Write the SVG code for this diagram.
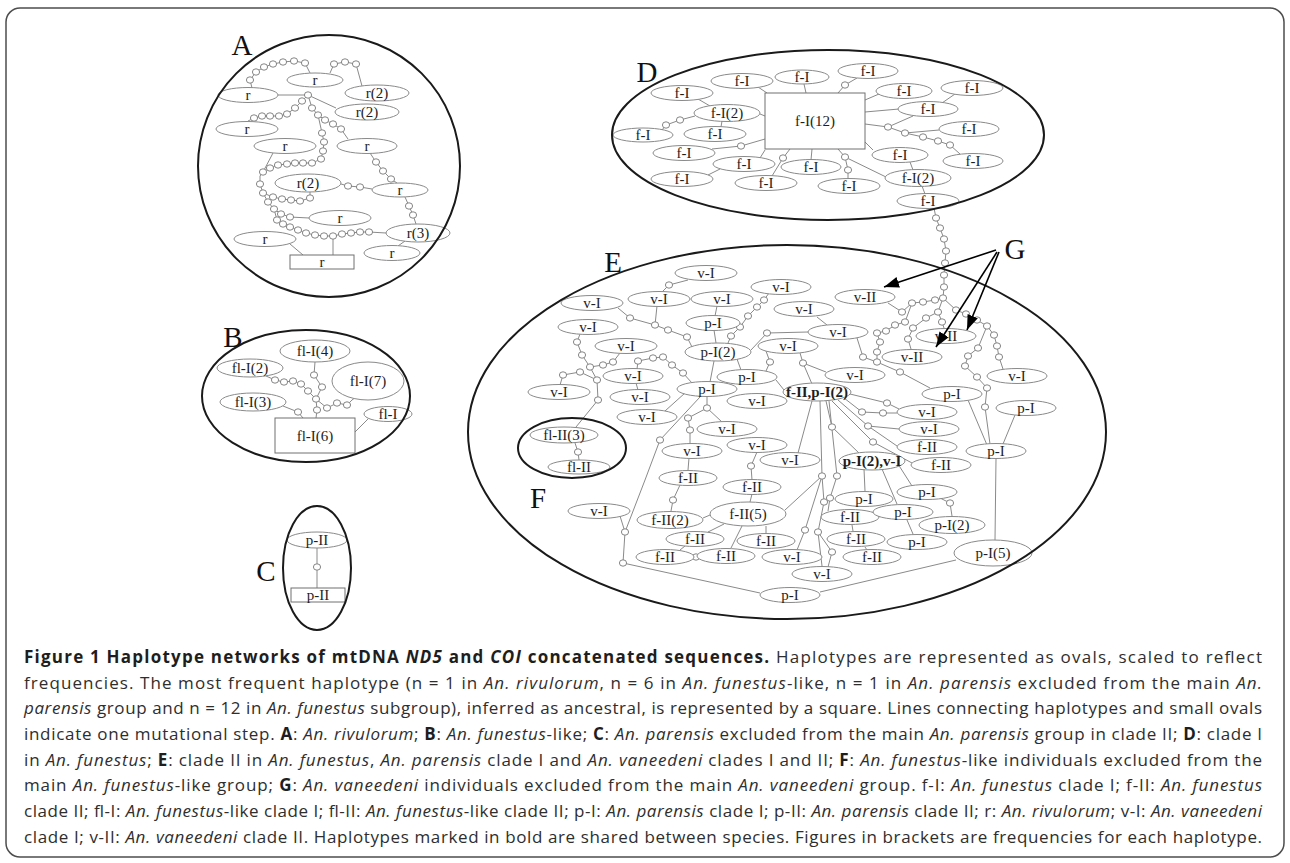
<svg xmlns="http://www.w3.org/2000/svg" xmlns:xlink="http://www.w3.org/1999/xlink" width="1290" height="863" viewBox="0 0 1290 863">
<style>
.grp{fill:none;stroke:#1a1a1a;stroke-width:2}
.nd{fill:#fff;stroke:#8a8a8a;stroke-width:1}
.sq{fill:#fff;stroke:#707070;stroke-width:1}
.t{font-family:"Liberation Serif","Times New Roman",serif;font-size:15px;fill:#1e1e1e;text-anchor:middle}
.tb{font-weight:bold}
.big{font-family:"Liberation Serif","Times New Roman",serif;font-size:29px;fill:#111;text-anchor:middle}
.ln{fill:none;stroke:#8a8a8a;stroke-width:1}
.st{fill:#fff;stroke:#777;stroke-width:0.9}
.arr{fill:none;stroke:#000;stroke-width:1.6;marker-end:url(#ah)}
.cap{font-family:"Open Sans","Noto Sans","DejaVu Sans",sans-serif;font-size:17px;fill:#2e2e2e}
.b{font-weight:bold;fill:#1e1e1e}
.i{font-style:italic}
</style>
<defs>
<ellipse id="s" cx="0" cy="0" rx="3.6" ry="3.2" class="st"/>
<marker id="ah" markerUnits="userSpaceOnUse" markerWidth="15" markerHeight="11" viewBox="0 0 15 11" refX="15" refY="5.5" orient="auto"><path d="M0,0 L15,5.5 L0,11 z" fill="#000"/></marker>
</defs>
<rect width="1290" height="863" fill="#fff"/>
<rect x="6" y="8" width="1278" height="849" rx="14" fill="none" stroke="#4d4d4d" stroke-width="1.5"/>

<g id="connectors">
<g class="ln">
<path d="M252,88 L250,80 L256,72 L264,67 L273,64 L283,62 L294,61 L305,63 L310,73"/>
<path d="M330,73 L334,64 L345,62 L356,64 L362,86"/>
<path d="M278,95 L308,95 L336,108"/>
<path d="M308,95 L302,101 L295,108 L287,114 L279,116 L270,116 L262,116 L254,118 L248,121"/>
<path d="M308,95 L312,108 L318,115 L325,120 L333,124 L341,129 L348,139"/>
<path d="M318,115 L322,133 L324,142 L323,151 L321,159 L312,163 L303,163 L295,163 L287,164 L278,165 L270,168 L263,172 L260,176"/>
<path d="M260,176 L260,184 L263,193 L268,202 L274,209 L281,214 L290,217 L309,218"/>
<path d="M263,193 L273,197 L282,199 L291,200 L300,201 L310,198 L310,192"/>
<path d="M274,209 L277,220 L283,224 L290,227 L298,230 L306,233 L315,235 L324,236 L333,236 L342,234 L351,233 L360,232 L369,232 L386,233"/>
<path d="M273,153 L263,172"/>
<path d="M290,244 L303,255"/>
<path d="M333,236 L333,255"/>
<path d="M370,153 L376,162 L383,171 L391,179 L397,183"/>
<path d="M341,184 L348,186 L360,187 L372,189"/>
<path d="M405,197 L409,206 L413,215 L416,224"/>
<path d="M405,241 L398,246"/>
<path d="M266,376 L275,380 L284,382 L293,381 L301,384 L308,391 L316,399"/>
<path d="M315,362 L314,375 L322,387 L316,399"/>
<path d="M316,399 L317,410 L316,418"/>
<path d="M283,406 L298,412 L303,418"/>
<path d="M316,399 L327,408 L337,403 L347,405 L352,400 L356,397"/>
<path d="M355,432 L368,419"/>
<path d="M317,548 L317,588"/>
<path d="M758,87 L767,93"/>
<path d="M804,84 L806,93"/>
<path d="M857,78 L845,85 L838,93"/>
<path d="M698,99 L710,106"/>
<path d="M760,114 L765,116"/>
<path d="M662,130 L666,125 L680,120 L695,116"/>
<path d="M721,127 L722,121"/>
<path d="M712,149 L741,146 L765,139"/>
<path d="M760,158 L765,150"/>
<path d="M708,175 L720,169"/>
<path d="M772,176 L783,158 L790,149"/>
<path d="M811,160 L812,149"/>
<path d="M848,179 L848,170 L845,157 L838,149"/>
<path d="M845,157 L886,177"/>
<path d="M865,100 L879,94"/>
<path d="M865,112 L899,109"/>
<path d="M865,124 L888,127 L913,116"/>
<path d="M888,127 L905,133 L923,137 L938,141 L950,145 L960,154"/>
<path d="M905,133 L939,130"/>
<path d="M865,142 L873,150"/>
<path d="M955,94 L942,103"/>
<path d="M910,162 L913,170"/>
<path d="M922,186 L925,194"/>
<path d="M934,208 L936,218 L940,228 L944,239 L946,251 L945,263 L944,275 L944,287 L943,298"/>
<path d="M943,298 L935,300 L923,302 L912,303 L902,312 L888,303"/>
<path d="M912,303 L905,322 L895,325 L886,331 L877,333 L880,342 L877,352 L877,362"/>
<path d="M857,338 L863,357 L877,362 L900,372 L930,388"/>
<path d="M943,298 L938,312 L926,318 L913,328 L908,339 L911,349"/>
<path d="M938,312 L942,322 L944,328"/>
<path d="M943,298 L956,310 L966,314 L977,320 L987,326 L994,335 L997,346 L999,357 L1003,369"/>
<path d="M987,326 L978,348 L968,356 L965,366 L977,377 L987,388 L985,407 L990,444"/>
<path d="M968,400 L987,445"/>
<path d="M1015,415 L1003,444"/>
<path d="M996,459 L995,540"/>
<path d="M956,560 L820,592"/>
<path d="M850,394 L887,403 L899,409"/>
<path d="M844,398 L862,412 L883,413 L897,413"/>
<path d="M838,400 L868,426 L899,429"/>
<path d="M868,426 L897,446"/>
<path d="M832,401 L873,442 L912,463"/>
<path d="M826,401 L832,427 L860,454"/>
<path d="M812,401 L798,453"/>
<path d="M820,401 L822,476 L824,502 L818,532 L822,566"/>
<path d="M822,476 L805,530 L797,550"/>
<path d="M785,510 L822,476"/>
<path d="M829,401 L837,476 L830,498 L828,511"/>
<path d="M818,532 L832,552 L828,567"/>
<path d="M864,469 L865,491"/>
<path d="M882,469 L897,504"/>
<path d="M898,464 L912,486"/>
<path d="M940,498 L950,503 L952,516"/>
<path d="M907,520 L913,534"/>
<path d="M852,525 L853,531"/>
<path d="M865,547 L867,550"/>
<path d="M688,280 L669,285 L662,292"/>
<path d="M618,308 L630,318 L655,325 L668,330 L687,337 L692,347"/>
<path d="M657,306 L655,325"/>
<path d="M717,306 L715,316"/>
<path d="M714,330 L716,343"/>
<path d="M714,361 L710,382"/>
<path d="M737,359 L741,370"/>
<path d="M728,343 L731,336 L740,327 L748,316 L757,307 L764,300 L769,293"/>
<path d="M751,350 L767,333 L808,332"/>
<path d="M817,317 L827,325"/>
<path d="M800,353 L803,363 L812,384"/>
<path d="M803,363 L826,372"/>
<path d="M766,351 L770,362 L766,371"/>
<path d="M776,380 L784,390"/>
<path d="M580,334 L577,342 L582,355 L590,367 L603,365 L613,362 L620,353"/>
<path d="M590,367 L597,380 L598,400 L576,427"/>
<path d="M597,380 L580,372 L563,375 L560,385"/>
<path d="M637,369 L638,361 L653,358 L663,357 L672,365 L683,373 L692,383"/>
<path d="M638,390 L636,383"/>
<path d="M665,411 L685,393"/>
<path d="M707,397 L707,408 L722,422"/>
<path d="M707,408 L688,418 L690,430 L690,444"/>
<path d="M700,397 L660,440 L645,480 L625,532 L623,563"/>
<path d="M620,516 L625,532"/>
<path d="M623,563 L760,593"/>
<path d="M575,443 L578,452 L579,460"/>
<path d="M689,458 L688,470"/>
<path d="M680,485 L673,500 L671,511"/>
<path d="M703,518 L710,515"/>
<path d="M750,502 L752,494"/>
<path d="M724,524 L708,532"/>
<path d="M742,526 L731,548"/>
<path d="M766,526 L766,533"/>
<path d="M680,550 L685,546"/>
<path d="M757,452 L751,466 L752,480"/>
</g>
<g id="steps">
<use href="#s" x="250" y="80"/><use href="#s" x="256" y="72"/><use href="#s" x="264" y="67"/><use href="#s" x="273" y="64"/><use href="#s" x="283" y="62"/><use href="#s" x="294" y="61"/><use href="#s" x="305" y="63"/>
<use href="#s" x="334" y="64"/><use href="#s" x="345" y="62"/><use href="#s" x="356" y="64"/>
<use href="#s" x="308" y="95"/>
<use href="#s" x="302" y="101"/><use href="#s" x="295" y="108"/><use href="#s" x="287" y="114"/><use href="#s" x="279" y="116"/><use href="#s" x="270" y="116"/><use href="#s" x="262" y="116"/><use href="#s" x="254" y="118"/>
<use href="#s" x="312" y="108"/><use href="#s" x="318" y="115"/><use href="#s" x="325" y="120"/><use href="#s" x="333" y="124"/><use href="#s" x="341" y="129"/>
<use href="#s" x="322" y="133"/><use href="#s" x="324" y="142"/><use href="#s" x="323" y="151"/><use href="#s" x="321" y="159"/><use href="#s" x="312" y="163"/><use href="#s" x="303" y="163"/><use href="#s" x="295" y="163"/><use href="#s" x="287" y="164"/><use href="#s" x="278" y="165"/><use href="#s" x="270" y="168"/><use href="#s" x="263" y="172"/>
<use href="#s" x="260" y="184"/><use href="#s" x="263" y="193"/><use href="#s" x="268" y="202"/><use href="#s" x="274" y="209"/><use href="#s" x="281" y="214"/><use href="#s" x="290" y="217"/>
<use href="#s" x="273" y="197"/><use href="#s" x="282" y="199"/><use href="#s" x="291" y="200"/><use href="#s" x="300" y="201"/><use href="#s" x="310" y="198"/>
<use href="#s" x="277" y="220"/><use href="#s" x="283" y="224"/><use href="#s" x="290" y="227"/><use href="#s" x="298" y="230"/><use href="#s" x="306" y="233"/><use href="#s" x="315" y="235"/><use href="#s" x="324" y="236"/><use href="#s" x="333" y="236"/><use href="#s" x="342" y="234"/><use href="#s" x="351" y="233"/><use href="#s" x="360" y="232"/><use href="#s" x="369" y="232"/>
<use href="#s" x="376" y="162"/><use href="#s" x="383" y="171"/><use href="#s" x="391" y="179"/>
<use href="#s" x="348" y="186"/><use href="#s" x="360" y="187"/>
<use href="#s" x="409" y="206"/><use href="#s" x="413" y="215"/>
<use href="#s" x="275" y="380"/><use href="#s" x="284" y="382"/><use href="#s" x="293" y="381"/><use href="#s" x="301" y="384"/><use href="#s" x="308" y="391"/>
<use href="#s" x="314" y="375"/><use href="#s" x="322" y="387"/><use href="#s" x="316" y="399"/><use href="#s" x="317" y="410"/><use href="#s" x="298" y="412"/>
<use href="#s" x="327" y="408"/><use href="#s" x="337" y="403"/><use href="#s" x="347" y="405"/>
<use href="#s" x="317" y="567"/>
<use href="#s" x="845" y="85"/><use href="#s" x="666" y="125"/><use href="#s" x="680" y="120"/><use href="#s" x="741" y="146"/><use href="#s" x="783" y="158"/><use href="#s" x="848" y="170"/><use href="#s" x="845" y="157"/><use href="#s" x="888" y="127"/><use href="#s" x="905" y="133"/><use href="#s" x="923" y="137"/><use href="#s" x="938" y="141"/><use href="#s" x="950" y="145"/>
<use href="#s" x="936" y="218"/><use href="#s" x="940" y="228"/><use href="#s" x="944" y="239"/><use href="#s" x="946" y="251"/><use href="#s" x="945" y="263"/><use href="#s" x="944" y="275"/><use href="#s" x="944" y="287"/><use href="#s" x="943" y="298"/>
<use href="#s" x="935" y="300"/><use href="#s" x="923" y="302"/><use href="#s" x="912" y="303"/><use href="#s" x="902" y="312"/>
<use href="#s" x="905" y="322"/><use href="#s" x="895" y="325"/><use href="#s" x="886" y="331"/><use href="#s" x="877" y="333"/><use href="#s" x="880" y="342"/><use href="#s" x="877" y="352"/><use href="#s" x="877" y="362"/>
<use href="#s" x="863" y="357"/><use href="#s" x="900" y="372"/>
<use href="#s" x="938" y="312"/><use href="#s" x="926" y="318"/><use href="#s" x="913" y="328"/><use href="#s" x="908" y="339"/><use href="#s" x="942" y="322"/>
<use href="#s" x="956" y="310"/><use href="#s" x="966" y="314"/><use href="#s" x="977" y="320"/><use href="#s" x="987" y="326"/><use href="#s" x="994" y="335"/><use href="#s" x="997" y="346"/><use href="#s" x="999" y="357"/>
<use href="#s" x="978" y="348"/><use href="#s" x="968" y="356"/><use href="#s" x="965" y="366"/><use href="#s" x="977" y="377"/><use href="#s" x="987" y="388"/><use href="#s" x="985" y="407"/>
<use href="#s" x="887" y="403"/><use href="#s" x="862" y="412"/><use href="#s" x="883" y="413"/><use href="#s" x="868" y="426"/><use href="#s" x="873" y="442"/><use href="#s" x="832" y="427"/>
<use href="#s" x="822" y="476"/><use href="#s" x="824" y="502"/><use href="#s" x="818" y="532"/><use href="#s" x="805" y="530"/><use href="#s" x="837" y="476"/><use href="#s" x="830" y="498"/><use href="#s" x="832" y="552"/><use href="#s" x="950" y="503"/>
<use href="#s" x="669" y="285"/><use href="#s" x="630" y="318"/><use href="#s" x="655" y="325"/><use href="#s" x="668" y="330"/><use href="#s" x="687" y="337"/>
<use href="#s" x="731" y="336"/><use href="#s" x="740" y="327"/><use href="#s" x="748" y="316"/><use href="#s" x="757" y="307"/><use href="#s" x="764" y="300"/>
<use href="#s" x="767" y="333"/><use href="#s" x="803" y="363"/><use href="#s" x="770" y="362"/>
<use href="#s" x="577" y="342"/><use href="#s" x="582" y="355"/><use href="#s" x="590" y="367"/><use href="#s" x="603" y="365"/><use href="#s" x="613" y="362"/>
<use href="#s" x="597" y="380"/><use href="#s" x="598" y="400"/><use href="#s" x="580" y="372"/><use href="#s" x="563" y="375"/>
<use href="#s" x="638" y="361"/><use href="#s" x="653" y="358"/><use href="#s" x="663" y="357"/><use href="#s" x="672" y="365"/><use href="#s" x="683" y="373"/>
<use href="#s" x="707" y="408"/><use href="#s" x="688" y="418"/><use href="#s" x="690" y="430"/>
<use href="#s" x="660" y="440"/><use href="#s" x="625" y="532"/><use href="#s" x="623" y="563"/>
<use href="#s" x="578" y="452"/><use href="#s" x="673" y="500"/><use href="#s" x="696" y="557"/><use href="#s" x="751" y="466"/>
</g>
</g>

<g id="a1"><ellipse class="nd" cx="315" cy="80" rx="28" ry="7"/><text class="t" x="315" y="85">r</text></g>
<g id="a2"><ellipse class="nd" cx="377" cy="93" rx="32" ry="8"/><text class="t" x="377" y="98">r(2)</text></g>
<g id="a3"><ellipse class="nd" cx="248" cy="95" rx="30" ry="7.5"/><text class="t" x="248" y="100">r</text></g>
<g id="a4"><ellipse class="nd" cx="367" cy="112" rx="32" ry="8"/><text class="t" x="367" y="117">r(2)</text></g>
<g id="a5"><ellipse class="nd" cx="247" cy="129" rx="31" ry="7.5"/><text class="t" x="247" y="134">r</text></g>
<g id="a6"><ellipse class="nd" cx="285" cy="146" rx="31" ry="7.5"/><text class="t" x="285" y="151">r</text></g>
<g id="a7"><ellipse class="nd" cx="367" cy="146" rx="30" ry="7.5"/><text class="t" x="367" y="151">r</text></g>
<g id="a8"><ellipse class="nd" cx="308" cy="183" rx="33" ry="9"/><text class="t" x="308" y="188">r(2)</text></g>
<g id="a9"><ellipse class="nd" cx="400" cy="190" rx="28" ry="7"/><text class="t" x="400" y="195">r</text></g>
<g id="a10"><ellipse class="nd" cx="340" cy="218" rx="31" ry="7.5"/><text class="t" x="340" y="223">r</text></g>
<g id="a11"><ellipse class="nd" cx="418" cy="233" rx="32" ry="9"/><text class="t" x="418" y="238">r(3)</text></g>
<g id="a12"><ellipse class="nd" cx="265" cy="239" rx="31" ry="7.5"/><text class="t" x="265" y="244">r</text></g>
<g id="a13"><ellipse class="nd" cx="392" cy="253" rx="28" ry="7.5"/><text class="t" x="392" y="258">r</text></g>
<g id="a14"><rect class="sq" x="290" y="255" width="64" height="14"/><text class="t" x="322" y="267">r</text></g>

<g id="b1"><ellipse class="nd" cx="315" cy="351" rx="35" ry="11"/><text class="t" x="315" y="356">fl-I(4)</text></g>
<g id="b2"><ellipse class="nd" cx="250" cy="368" rx="33" ry="9"/><text class="t" x="250" y="373">fl-I(2)</text></g>
<g id="b3"><ellipse class="nd" cx="253" cy="402" rx="33" ry="9"/><text class="t" x="253" y="407">fl-I(3)</text></g>
<g id="b4"><ellipse class="nd" cx="368" cy="381" rx="36" ry="19"/><text class="t" x="368" y="386">fl-I(7)</text></g>
<g id="b5"><ellipse class="nd" cx="388" cy="414" rx="24" ry="7.5"/><text class="t" x="388" y="419">fl-I</text></g>
<g id="b6"><rect class="sq" x="275" y="418" width="80" height="35"/><text class="t" x="315" y="441">fl-I(6)</text></g>

<g id="c1"><ellipse class="nd" cx="317" cy="540" rx="30" ry="8"/><text class="t" x="317" y="545">p-II</text></g>
<g id="c2"><rect class="sq" x="291" y="588" width="54" height="14"/><text class="t" x="318" y="600">p-II</text></g>

<g id="d0"><rect class="sq" x="765" y="93" width="100" height="56"/><text class="t" x="815" y="126">f-I(12)</text></g>
<g id="d1"><ellipse class="nd" cx="742" cy="81" rx="31" ry="7.5"/><text class="t" x="742" y="86">f-I</text></g>
<g id="d2"><ellipse class="nd" cx="802" cy="77" rx="27" ry="7"/><text class="t" x="802" y="82">f-I</text></g>
<g id="d3"><ellipse class="nd" cx="868" cy="71" rx="30" ry="7.5"/><text class="t" x="868" y="76">f-I</text></g>
<g id="d4"><ellipse class="nd" cx="682" cy="93" rx="31" ry="7.5"/><text class="t" x="682" y="98">f-I</text></g>
<g id="d5"><ellipse class="nd" cx="727" cy="113" rx="33" ry="8.5"/><text class="t" x="727" y="118">f-I(2)</text></g>
<g id="d6"><ellipse class="nd" cx="643" cy="135" rx="30" ry="7"/><text class="t" x="643" y="140">f-I</text></g>
<g id="d7"><ellipse class="nd" cx="715" cy="134" rx="31" ry="7.5"/><text class="t" x="715" y="139">f-I</text></g>
<g id="d8"><ellipse class="nd" cx="684" cy="153" rx="31" ry="7.5"/><text class="t" x="684" y="158">f-I</text></g>
<g id="d9"><ellipse class="nd" cx="744" cy="164" rx="31" ry="7.5"/><text class="t" x="744" y="169">f-I</text></g>
<g id="d10"><ellipse class="nd" cx="682" cy="179" rx="31" ry="7.5"/><text class="t" x="682" y="184">f-I</text></g>
<g id="d11"><ellipse class="nd" cx="811" cy="167" rx="30" ry="7.5"/><text class="t" x="811" y="172">f-I</text></g>
<g id="d12"><ellipse class="nd" cx="766" cy="183" rx="31" ry="7.5"/><text class="t" x="766" y="188">f-I</text></g>
<g id="d13"><ellipse class="nd" cx="849" cy="186" rx="31" ry="7.5"/><text class="t" x="849" y="191">f-I</text></g>
<g id="d14"><ellipse class="nd" cx="904" cy="91" rx="28" ry="7.5"/><text class="t" x="904" y="96">f-I</text></g>
<g id="d15"><ellipse class="nd" cx="972" cy="88" rx="31" ry="7.5"/><text class="t" x="972" y="93">f-I</text></g>
<g id="d16"><ellipse class="nd" cx="928" cy="109" rx="30" ry="7.5"/><text class="t" x="928" y="114">f-I</text></g>
<g id="d17"><ellipse class="nd" cx="969" cy="129" rx="30" ry="7.5"/><text class="t" x="969" y="134">f-I</text></g>
<g id="d18"><ellipse class="nd" cx="973" cy="161" rx="30" ry="7.5"/><text class="t" x="973" y="166">f-I</text></g>
<g id="d19"><ellipse class="nd" cx="900" cy="155" rx="28" ry="7.5"/><text class="t" x="900" y="160">f-I</text></g>
<g id="d20"><ellipse class="nd" cx="918" cy="178" rx="33" ry="8.5"/><text class="t" x="918" y="183">f-I(2)</text></g>
<g id="d21"><ellipse class="nd" cx="928" cy="201" rx="31" ry="7.5"/><text class="t" x="928" y="206">f-I</text></g>

<g id="e1"><ellipse class="nd" cx="706" cy="273" rx="31" ry="7.5"/><text class="t" x="706" y="278">v-I</text></g>
<g id="e2"><ellipse class="nd" cx="592" cy="303" rx="31" ry="7.5"/><text class="t" x="592" y="308">v-I</text></g>
<g id="e3"><ellipse class="nd" cx="659" cy="299" rx="31" ry="7.5"/><text class="t" x="659" y="304">v-I</text></g>
<g id="e4"><ellipse class="nd" cx="722" cy="299" rx="31" ry="7.5"/><text class="t" x="722" y="304">v-I</text></g>
<g id="e5"><ellipse class="nd" cx="781" cy="287" rx="30" ry="7.5"/><text class="t" x="781" y="292">v-I</text></g>
<g id="e6"><ellipse class="nd" cx="588" cy="327" rx="30" ry="7.5"/><text class="t" x="588" y="332">v-I</text></g>
<g id="e7"><ellipse class="nd" cx="713" cy="323" rx="27" ry="7.5"/><text class="t" x="713" y="328">p-I</text></g>
<g id="e8"><ellipse class="nd" cx="626" cy="346" rx="31" ry="7.5"/><text class="t" x="626" y="351">v-I</text></g>
<g id="e9"><ellipse class="nd" cx="718" cy="352" rx="33" ry="9"/><text class="t" x="718" y="357">p-I(2)</text></g>
<g id="e10"><ellipse class="nd" cx="633" cy="376" rx="30" ry="7.5"/><text class="t" x="633" y="381">v-I</text></g>
<g id="e11"><ellipse class="nd" cx="747" cy="377" rx="30" ry="7.5"/><text class="t" x="747" y="382">p-I</text></g>
<g id="e12"><ellipse class="nd" cx="559" cy="392" rx="31" ry="7.5"/><text class="t" x="559" y="397">v-I</text></g>
<g id="e15"><ellipse class="nd" cx="757" cy="401" rx="30" ry="7.5"/><text class="t" x="757" y="406">v-I</text></g>
<g id="e13"><ellipse class="nd" cx="640" cy="397" rx="30" ry="7.5"/><text class="t" x="640" y="402">v-I</text></g>
<g id="e14"><ellipse class="nd" cx="707" cy="389" rx="30" ry="7.5"/><text class="t" x="707" y="394">p-I</text></g>
<g id="e16"><ellipse class="nd" cx="647" cy="417" rx="30" ry="7.5"/><text class="t" x="647" y="422">v-I</text></g>
<g id="e17"><ellipse class="nd" cx="727" cy="429" rx="30" ry="7.5"/><text class="t" x="727" y="434">v-I</text></g>
<g id="e18"><ellipse class="nd" cx="757" cy="445" rx="30" ry="7.5"/><text class="t" x="757" y="450">v-I</text></g>
<g id="e19"><ellipse class="nd" cx="692" cy="451" rx="30" ry="7.5"/><text class="t" x="692" y="456">v-I</text></g>
<g id="e20"><ellipse class="nd" cx="688" cy="478" rx="29" ry="7.5"/><text class="t" x="688" y="483">f-II</text></g>
<g id="e21"><ellipse class="nd" cx="752" cy="487" rx="29" ry="7.5"/><text class="t" x="752" y="492">f-II</text></g>
<g id="e22"><ellipse class="nd" cx="865" cy="297" rx="30" ry="7.5"/><text class="t" x="865" y="302">v-II</text></g>
<g id="e23"><ellipse class="nd" cx="804" cy="309" rx="30" ry="7.5"/><text class="t" x="804" y="314">v-I</text></g>
<g id="e24"><ellipse class="nd" cx="838" cy="332" rx="30" ry="7.5"/><text class="t" x="838" y="337">v-I</text></g>
<g id="e25"><ellipse class="nd" cx="788" cy="346" rx="30" ry="7.5"/><text class="t" x="788" y="351">v-I</text></g>
<g id="e26"><ellipse class="nd" cx="855" cy="375" rx="30" ry="7.5"/><text class="t" x="855" y="380">v-I</text></g>
<g id="e27"><ellipse class="nd" cx="946" cy="336" rx="30" ry="7.5"/><text class="t" x="946" y="341">v-II</text></g>
<g id="e28"><ellipse class="nd" cx="912" cy="357" rx="30" ry="7.5"/><text class="t" x="912" y="362">v-II</text></g>
<g id="e29"><ellipse class="nd" cx="1017" cy="376" rx="30" ry="7.5"/><text class="t" x="1017" y="381">v-I</text></g>
<g id="e30"><ellipse class="nd" cx="817" cy="392" rx="34" ry="9"/><text class="t tb" x="817" y="397">f-II,p-I(2)</text></g>
<g id="e31"><ellipse class="nd" cx="952" cy="394" rx="30" ry="7.5"/><text class="t" x="952" y="399">p-I</text></g>
<g id="e32"><ellipse class="nd" cx="1026" cy="408" rx="30" ry="7.5"/><text class="t" x="1026" y="413">p-I</text></g>
<g id="e33"><ellipse class="nd" cx="927" cy="412" rx="30" ry="7.5"/><text class="t" x="927" y="417">v-I</text></g>
<g id="e34"><ellipse class="nd" cx="929" cy="429" rx="30" ry="7.5"/><text class="t" x="929" y="434">v-I</text></g>
<g id="e35"><ellipse class="nd" cx="927" cy="447" rx="30" ry="7.5"/><text class="t" x="927" y="452">f-II</text></g>
<g id="e36"><ellipse class="nd" cx="996" cy="451" rx="30" ry="7.5"/><text class="t" x="996" y="456">p-I</text></g>
<g id="e37"><ellipse class="nd" cx="790" cy="460" rx="30" ry="7.5"/><text class="t" x="790" y="465">v-I</text></g>
<g id="e38"><ellipse class="nd" cx="872" cy="461" rx="33" ry="9"/><text class="t tb" x="872" y="466">p-I(2),v-I</text></g>
<g id="e39"><ellipse class="nd" cx="941" cy="465" rx="30" ry="7.5"/><text class="t" x="941" y="470">f-II</text></g>
<g id="e40"><ellipse class="nd" cx="927" cy="492" rx="30" ry="7.5"/><text class="t" x="927" y="497">p-I</text></g>
<g id="e41"><ellipse class="nd" cx="864" cy="499" rx="29" ry="7.5"/><text class="t" x="864" y="504">p-I</text></g>
<g id="e42"><ellipse class="nd" cx="599" cy="511" rx="31" ry="7.5"/><text class="t" x="599" y="516">v-I</text></g>
<g id="e43"><ellipse class="nd" cx="670" cy="520" rx="33" ry="8.5"/><text class="t" x="670" y="525">f-II(2)</text></g>
<g id="e44"><ellipse class="nd" cx="748" cy="514" rx="38" ry="12"/><text class="t" x="748" y="519">f-II(5)</text></g>
<g id="e45"><ellipse class="nd" cx="695" cy="539" rx="29" ry="7.5"/><text class="t" x="695" y="544">f-II</text></g>
<g id="e46"><ellipse class="nd" cx="766" cy="541" rx="29" ry="7.5"/><text class="t" x="766" y="546">f-II</text></g>
<g id="e47"><ellipse class="nd" cx="665" cy="557" rx="29" ry="7.5"/><text class="t" x="665" y="562">f-II</text></g>
<g id="e48"><ellipse class="nd" cx="726" cy="556" rx="29" ry="7.5"/><text class="t" x="726" y="561">f-II</text></g>
<g id="e49"><ellipse class="nd" cx="792" cy="557" rx="30" ry="7.5"/><text class="t" x="792" y="562">v-I</text></g>
<g id="e50"><ellipse class="nd" cx="822" cy="574" rx="30" ry="7.5"/><text class="t" x="822" y="579">v-I</text></g>
<g id="e51"><ellipse class="nd" cx="790" cy="595" rx="30" ry="7.5"/><text class="t" x="790" y="600">p-I</text></g>
<g id="e52"><ellipse class="nd" cx="850" cy="517" rx="29" ry="7.5"/><text class="t" x="850" y="522">f-II</text></g>
<g id="e53"><ellipse class="nd" cx="903" cy="512" rx="30" ry="7.5"/><text class="t" x="903" y="517">p-I</text></g>
<g id="e54"><ellipse class="nd" cx="952" cy="525" rx="33" ry="8.5"/><text class="t" x="952" y="530">p-I(2)</text></g>
<g id="e55"><ellipse class="nd" cx="856" cy="539" rx="29" ry="7.5"/><text class="t" x="856" y="544">f-II</text></g>
<g id="e56"><ellipse class="nd" cx="917" cy="542" rx="30" ry="7.5"/><text class="t" x="917" y="547">p-I</text></g>
<g id="e57"><ellipse class="nd" cx="872" cy="557" rx="29" ry="7.5"/><text class="t" x="872" y="562">f-II</text></g>
<g id="e58"><ellipse class="nd" cx="993" cy="553" rx="39" ry="13"/><text class="t" x="993" y="558">p-I(5)</text></g>
<g id="f1"><ellipse class="nd" cx="564" cy="435" rx="34" ry="8"/><text class="t" x="564" y="440">fl-II(3)</text></g>
<g id="f2"><ellipse class="nd" cx="579" cy="467" rx="31" ry="7"/><text class="t" x="579" y="472">fl-II</text></g>

<g id="groups">
<circle class="grp" cx="329" cy="166" r="131"/>
<ellipse class="grp" cx="306" cy="396" rx="104" ry="66"/>
<ellipse class="grp" cx="317" cy="568" rx="34" ry="62"/>
<ellipse class="grp" cx="828" cy="135" rx="216" ry="85"/>
<ellipse class="grp" cx="787" cy="432" rx="319" ry="187"/>
<ellipse class="grp" cx="572" cy="448" rx="54" ry="30"/>
</g>

<g id="arrows">
<path class="arr" d="M996,250 L884,287"/>
<path class="arr" d="M997,252 L936,347"/>
<path class="arr" d="M999,252 L967,330"/>
</g>

<g id="labels">
<text class="big" x="242" y="55">A</text>
<text class="big" x="233" y="347">B</text>
<text class="big" x="266" y="581">C</text>
<text class="big" x="647" y="82">D</text>
<text class="big" x="613" y="272">E</text>
<text class="big" x="538" y="508">F</text>
<text class="big" x="1015" y="259">G</text>
</g>

<g id="caption">
<text class="cap" x="24" y="663" textLength="1238" lengthAdjust="spacing"><tspan class="b">Figure 1 Haplotype networks of mtDNA <tspan class="i">ND5</tspan> and <tspan class="i">COI</tspan> concatenated sequences.</tspan> Haplotypes are represented as ovals, scaled to reflect</text>
<text class="cap" x="24" y="689" textLength="1238" lengthAdjust="spacing">frequencies. The most frequent haplotype (n = 1 in <tspan class="i">An. rivulorum</tspan>, n = 6 in <tspan class="i">An. funestus</tspan>-like, n = 1 in <tspan class="i">An. parensis</tspan> excluded from the main <tspan class="i">An.</tspan></text>
<text class="cap" x="24" y="714" textLength="1238" lengthAdjust="spacing"><tspan class="i">parensis</tspan> group and n = 12 in <tspan class="i">An. funestus</tspan> subgroup), inferred as ancestral, is represented by a square. Lines connecting haplotypes and small ovals</text>
<text class="cap" x="24" y="740" textLength="1238" lengthAdjust="spacing">indicate one mutational step. <tspan class="b">A</tspan>: <tspan class="i">An. rivulorum</tspan>; <tspan class="b">B</tspan>: <tspan class="i">An. funestus</tspan>-like; <tspan class="b">C</tspan>: <tspan class="i">An. parensis</tspan> excluded from the main <tspan class="i">An. parensis</tspan> group in clade II; <tspan class="b">D</tspan>: clade I</text>
<text class="cap" x="24" y="766" textLength="1238" lengthAdjust="spacing">in <tspan class="i">An. funestus</tspan>; <tspan class="b">E</tspan>: clade II in <tspan class="i">An. funestus</tspan>, <tspan class="i">An. parensis</tspan> clade I and <tspan class="i">An. vaneedeni</tspan> clades I and II; <tspan class="b">F</tspan>: <tspan class="i">An. funestus</tspan>-like individuals excluded from the</text>
<text class="cap" x="24" y="791" textLength="1238" lengthAdjust="spacing">main <tspan class="i">An. funestus</tspan>-like group; <tspan class="b">G</tspan>: <tspan class="i">An. vaneedeni</tspan> individuals excluded from the main <tspan class="i">An. vaneedeni</tspan> group. f-I: <tspan class="i">An. funestus</tspan> clade I; f-II: <tspan class="i">An. funestus</tspan></text>
<text class="cap" x="24" y="817" textLength="1238" lengthAdjust="spacing">clade II; fl-I: <tspan class="i">An. funestus</tspan>-like clade I; fl-II: <tspan class="i">An. funestus</tspan>-like clade II; p-I: <tspan class="i">An. parensis</tspan> clade I; p-II: <tspan class="i">An. parensis</tspan> clade II; r: <tspan class="i">An. rivulorum</tspan>; v-I: <tspan class="i">An. vaneedeni</tspan></text>
<text class="cap" x="24" y="843" textLength="1238" lengthAdjust="spacing">clade I; v-II: <tspan class="i">An. vaneedeni</tspan> clade II. Haplotypes marked in bold are shared between species. Figures in brackets are frequencies for each haplotype.</text>
</g>
</svg>
